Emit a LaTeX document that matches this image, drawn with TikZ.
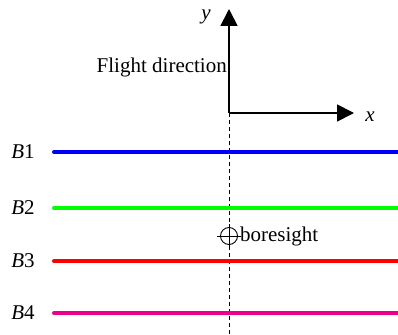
\documentclass[tikz,border=0pt]{standalone}
\usepackage{fontspec}
\setmainfont{Liberation Serif}
\usetikzlibrary{arrows.meta,positioning}

\begin{document}
\begin{tikzpicture}[
x=1pt, y=-1pt,
lbl/.style={inner sep=0pt, font=\fontsize{21}{25}\selectfont},
band/.style={line width=4pt, line cap=round},
axis/.style={line width=1.8pt, -{Triangle[length=17pt,width=17pt]}},
mark line/.style={line width=0.9pt}
]
\useasboundingbox (0,0) rectangle (398,334);

% axes
\coordinate (o) at (229,113);
\coordinate (ytip) at (229,9);
\coordinate (xtip) at (354,113);
\coordinate (obot) at (229,334);
\draw[axis] (o) -- (ytip);
\draw[axis] (o) -- (xtip);
\draw[dashed, line width=0.7pt, dash pattern=on 4pt off 3pt] (o) -- (obot);
\node[lbl] (ylab) at (206,17) {\textit{y}};
\node[lbl] (xlab) at (370,117) {\textit{x}};
\node[lbl, anchor=east] (flight) at (227,67) {Flight direction};

% bands
\foreach \i/\yy/\col in {1/152/blue, 2/208/green, 3/261/red, 4/313/magenta} {
  \node[lbl] (b\i) at (23,\yy) {\textit{B}\i};
  \coordinate (b\i s) at (54,\yy);
  \coordinate (b\i e) at (400,\yy);
  \draw[band, \col] (b\i s) -- (b\i e);
}

% boresight
\node[draw, circle, mark line, minimum size=17pt, inner sep=0pt] (bore) at (229,236) {};
\draw[mark line] ([xshift=-3pt]bore.west) -- ([xshift=3pt]bore.east);
\draw[mark line] ([yshift=3pt]bore.north) -- ([yshift=-3pt]bore.south);
\node[lbl, right=2pt of bore] (boretxt) {boresight};
\end{tikzpicture}
\end{document}
